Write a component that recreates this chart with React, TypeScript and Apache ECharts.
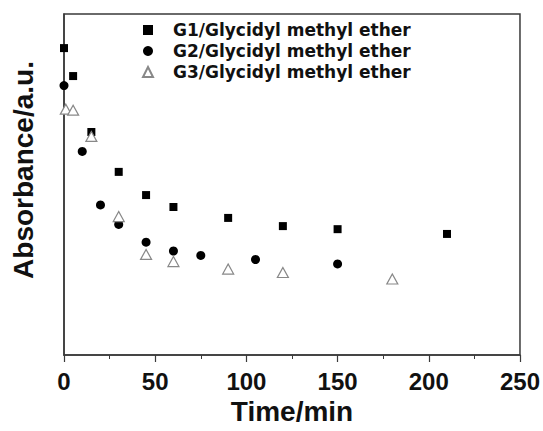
import React, { useEffect, useRef } from "react";
import * as echarts from "echarts";

const seriesNames = [
  "G1/Glycidyl methyl ether",
  "G2/Glycidyl methyl ether",
  "G3/Glycidyl methyl ether",
];

const g1Time = [0, 5, 15, 30, 45, 60, 90, 120, 150, 210];
const g1Abs = [90.0, 81.8, 65.4, 53.7, 46.9, 43.4, 40.2, 37.8, 36.9, 35.5];

const g2Time = [0, 10, 20, 30, 45, 60, 75, 105, 150];
const g2Abs = [79.0, 59.7, 44.0, 38.3, 33.1, 30.5, 29.2, 28.0, 26.7];

const g3Time = [1, 5, 15, 30, 45, 60, 90, 120, 180];
const g3Abs = [72.1, 71.8, 64.1, 40.6, 29.5, 27.4, 25.2, 24.2, 22.3];

const xTicks = [0, 50, 100, 150, 200, 250];

const zip = (xs: number[], ys: number[]) => xs.map((x, i) => [x, ys[i]]);

export default function App() {
  const ref = useRef<HTMLDivElement>(null);
  useEffect(() => {
    if (!ref.current) return;
    const chart = echarts.init(ref.current, null, { renderer: "svg" });
    const axisFont = "'Liberation Sans', Arial, sans-serif";
    chart.setOption({
      animation: false,
      backgroundColor: "#ffffff",
      grid: {
        left: 64,
        right: 13,
        top: 14,
        bottom: 76,
        show: true,
        borderColor: "#3a3a3a",
        borderWidth: 1.5,
        backgroundColor: "transparent",
      },
      legend: {
        orient: "vertical",
        left: 142,
        top: 20,
        padding: 0,
        itemWidth: 10,
        itemHeight: 10,
        itemGap: 1,
        data: seriesNames,
        textStyle: {
          fontFamily: "'DejaVu Sans', sans-serif",
          fontWeight: "bold",
          fontSize: 17,
          lineHeight: 20,
          color: "#111",
          padding: [0, 0, 0, 15],
        },
      },
      xAxis: {
        type: "value",
        min: 0,
        max: 250,
        interval: 50,
        name: "Time/min",
        nameLocation: "middle",
        nameGap: 31,
        nameTextStyle: {
          fontFamily: axisFont,
          fontWeight: "bold",
          fontSize: 28,
          color: "#111",
        },
        axisLine: { show: true, lineStyle: { color: "#3a3a3a", width: 1.5 } },
        axisTick: { show: true, inside: false, length: 7, lineStyle: { color: "#3a3a3a", width: 1.2 } },
        minorTick: { show: true, splitNumber: 2, length: 4, lineStyle: { color: "#3a3a3a", width: 1 } },
        splitLine: { show: false },
        axisLabel: {
          margin: 14,
          fontFamily: axisFont,
          fontWeight: "bold",
          fontSize: 24,
          color: "#111",
          formatter: (v: number) => (xTicks.includes(v) ? String(v) : ""),
        },
      },
      yAxis: {
        type: "value",
        min: 0,
        max: 100,
        axisLine: { show: true, lineStyle: { color: "#3a3a3a", width: 1.5 } },
        axisTick: { show: false },
        axisLabel: { show: false },
        splitLine: { show: false },
      },
      graphic: [
        {
          type: "text",
          x: 23,
          y: 170,
          rotation: Math.PI / 2,
          style: {
            text: "Absorbance/a.u.",
            fontFamily: axisFont,
            fontWeight: "bold",
            fontSize: 28,
            fill: "#111",
            textAlign: "center",
            textVerticalAlign: "middle",
          },
        },
      ],
      series: [
        {
          name: seriesNames[0],
          type: "scatter",
          symbol: "rect",
          symbolSize: 8,
          itemStyle: { color: "#000", opacity: 1 },
          data: zip(g1Time, g1Abs),
        },
        {
          name: seriesNames[1],
          type: "scatter",
          symbol: "circle",
          symbolSize: 9,
          itemStyle: { color: "#000", opacity: 1 },
          data: zip(g2Time, g2Abs),
        },
        {
          name: seriesNames[2],
          type: "scatter",
          symbol: "triangle",
          symbolSize: [11, 10],
          itemStyle: { color: "#fff", borderColor: "#888", borderWidth: 1.2, opacity: 1 },
          data: zip(g3Time, g3Abs),
        },
      ],
    });
    return () => chart.dispose();
  }, []);
  return <div ref={ref} style={{ width: 543, height: 431, position: "absolute", left: 0, top: 0 }} />;
}
